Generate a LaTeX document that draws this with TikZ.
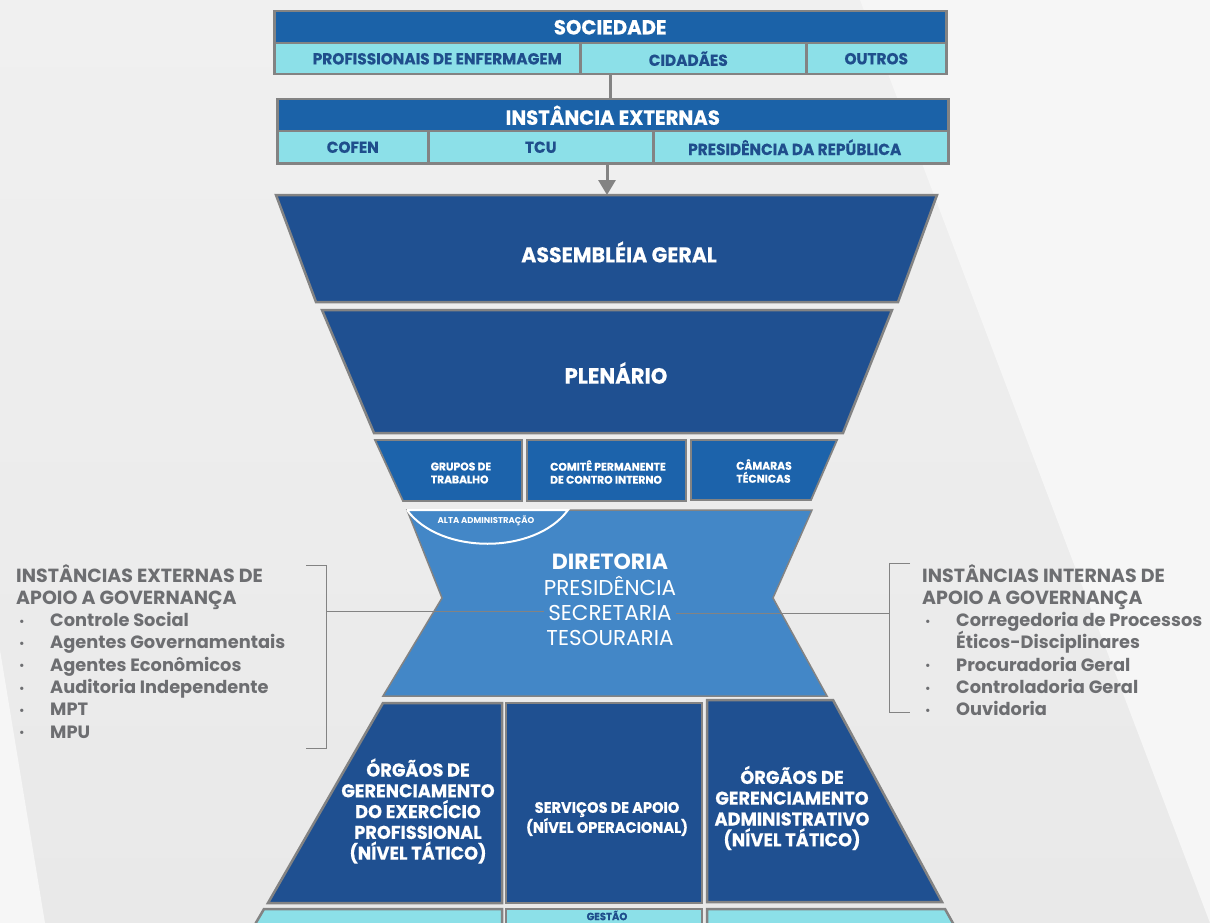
\documentclass[tikz,border=0pt]{standalone}
\usepackage{fontspec}
\setmainfont{Poppins}
\newfontfamily\condfont[FakeStretch=0.96,FakeBold=0.4]{Poppins}
\usetikzlibrary{arrows.meta}

\definecolor{headblue}{HTML}{1B62A8}
\definecolor{cellcyan}{HTML}{8CE0E8}
\definecolor{celltext}{HTML}{1F4E8C}
\definecolor{deepblue}{HTML}{1F5091}
\definecolor{midblue}{HTML}{1C63AB}
\definecolor{hourblue}{HTML}{4387C7}
\definecolor{edgegray}{HTML}{838383}
\definecolor{sidegray}{HTML}{6D6E71}
\definecolor{bgtop}{HTML}{F0F0F0}
\definecolor{bgback}{HTML}{E9E9E9}
\definecolor{bglight}{HTML}{F6F6F6}

\newcommand{\pxsize}[2]{\fontsize{#1}{#2}\selectfont}
\newcommand{\sbul}{\makebox[34pt][l]{\hspace{3pt}\raisebox{1.5pt}{\pxsize{11}{11}\textbullet}}}
\newcommand{\sidehead}[1]{{\pxsize{19}{22.3}#1}}

\tikzset{
  cellbox/.style={draw=edgegray, line width=2.5pt, inner sep=0pt, anchor=north west},
  topbar/.style={cellbox, fill=headblue, text=white, font=\condfont\bfseries\pxsize{20.5}{20.5}},
  subcell/.style={cellbox, fill=cellcyan, text=celltext, font=\condfont\bfseries\pxsize{16}{16}},
  funnel/.style={draw=edgegray, line width=2.5pt, fill=deepblue},
  smallbox/.style={draw=edgegray, line width=1.8pt, fill=midblue},
  boxtext/.style={text=white, align=center, inner sep=0pt, font=\condfont\bfseries\pxsize{18.5}{20.8}},
  smalltext/.style={text=white, align=left, inner sep=0pt, font=\condfont\bfseries\pxsize{11.2}{13}},
  sidetext/.style={text=sidegray, align=left, anchor=north west, inner sep=0pt, font=\bfseries\pxsize{17.8}{22.3}},
  bracket/.style={draw=edgegray, line width=1pt}
}

\begin{document}
\begin{tikzpicture}[x=1pt,y=-1pt]
\useasboundingbox (0,0) rectangle (1210,923);
\clip (0,0) rectangle (1210,923);
\shade[top color=bgtop, bottom color=bgback] (0,0) rectangle (1210,923);
\fill[bglight] (860,0) -- (1210,0) -- (1210,923) -- cycle;
\fill[bglight] (0,650) -- (45,923) -- (0,923) -- cycle;

\node[topbar, minimum width=672pt, minimum height=32pt] (soc) at (273,10) {SOCIEDADE};
\node[subcell, minimum width=306pt, minimum height=31pt, text depth=0pt] (prof) at (273,42) {\hspace*{20pt}PROFISSIONAIS DE ENFERMAGEM};
\node[subcell, minimum width=226pt, minimum height=31pt] (cid) at (579,42) {CIDADÃES\hspace*{10pt}};
\node[subcell, minimum width=140pt, minimum height=31pt] (outros) at (805,42) {OUTROS};

\node[topbar, minimum width=671pt, minimum height=32pt] (ext) at (276,98) {INSTÂNCIA EXTERNAS};
\node[subcell, minimum width=151pt, minimum height=32pt] (cofen) at (276,130) {COFEN};
\node[subcell, minimum width=225pt, minimum height=32pt] (tcu) at (427,130) {TCU};
\node[subcell, minimum width=295pt, minimum height=32pt] (presrep) at (652,130) {PRESIDÊNCIA DA REPÚBLICA\hspace*{12pt}};

\draw[edgegray, line width=2.5pt] (soc |- cid.south) -- (soc |- ext.north);
\coordinate (asmtop) at (607,195);
\draw[edgegray, line width=3pt, -{Triangle[width=17pt,length=15pt]}] (tcu.south -| asmtop) -- (asmtop);

\filldraw[funnel] (276,195) -- (937,195) -- (898,302) -- (316,302) -- cycle;
\node[boxtext, font=\condfont\bfseries\pxsize{21.4}{21.4}] (asm) at (619,252) {ASSEMBLÉIA GERAL};
\filldraw[funnel] (322,310) -- (892,310) -- (843,433) -- (374,433) -- cycle;
\node[boxtext, font=\condfont\bfseries\pxsize{22}{22}] (plen) at (616,373) {PLENÁRIO};

\filldraw[smallbox] (375,440) -- (522,440) -- (522,501) -- (403,501) -- cycle;
\node[smalltext] (grupos) at (461,473) {GRUPOS DE\\TRABALHO};
\filldraw[smallbox] (527,440) -- (686,440) -- (686,501) -- (527,501) -- cycle;
\node[smalltext] (comite) at (608,472) {COMITÊ PERMANENTE\\DE CONTRO INTERNO};
\filldraw[smallbox] (691,440) -- (837,440) -- (811,500) -- (691,500) -- cycle;
\node[smalltext] (camaras) at (764,471) {CÂMARAS\\TÉCNICAS};

\filldraw[fill=hourblue, draw=edgegray, line width=1.5pt] (407,510) -- (812,510) -- (773,598) -- (827,696) -- (383,696) -- (442,598) -- cycle;
\draw[white, line width=2pt] (407,510) -- (568,510) .. controls (535,555) and (440,555) .. (407,510);
\node[text=white, inner sep=0pt, font=\bfseries\pxsize{8.5}{8.5}] (alta) at (486,521) {ALTA ADMINISTRAÇÃO};
\node[text=white, align=center, inner sep=0pt, font=\pxsize{21.5}{25.3}] (dir) at (610,600) {{\bfseries\pxsize{22}{25.3}DIRETORIA}\\PRESIDÊNCIA\\SECRETARIA\\TESOURARIA};

\filldraw[funnel] (383,703) -- (502,703) -- (502,903) -- (268,903) -- cycle;
\node[boxtext] (orgprof) at (418,811) {ÓRGÃOS DE\\GERENCIAMENTO\\DO EXERCÍCIO\\PROFISSIONAL\\(NÍVEL TÁTICO)};
\filldraw[funnel] (506,703) -- (702,703) -- (702,903) -- (506,903) -- cycle;
\node[boxtext, font=\condfont\bfseries\pxsize{15.2}{18}] (servicos) at (607,819) {SERVIÇOS DE APOIO\\(NÍVEL OPERACIONAL)};
\filldraw[funnel] (707,700) -- (833,700) -- (942,902) -- (707,902) -- cycle;
\node[boxtext] (orgadm) at (792,808) {ÓRGÃOS DE\\GERENCIAMENTO\\ADMINISTRATIVO\\(NÍVEL TÁTICO)};

\filldraw[fill=cellcyan, draw=edgegray, line width=2.5pt] (264,909) -- (502,909) -- (502,950) -- (240,950) -- cycle;
\filldraw[fill=cellcyan, draw=edgegray, line width=2.5pt] (506,909) -- (702,909) -- (702,950) -- (506,950) -- cycle;
\node[text=celltext, inner sep=0pt, font=\condfont\bfseries\pxsize{10.5}{10.5}] (gestao) at (607,915.5) {GESTÃO};
\filldraw[fill=cellcyan, draw=edgegray, line width=2.5pt] (707,909) -- (945,909) -- (968,950) -- (707,950) -- cycle;

\node[sidetext] (extapoio) at (16,564) {\sidehead{INSTÂNCIAS EXTERNAS DE}\\\sidehead{APOIO A GOVERNANÇA}\\\sbul Controle Social\\\sbul Agentes Governamentais\\\sbul Agentes Econômicos\\\sbul Auditoria Independente\\\sbul MPT\\\sbul MPU};
\node[sidetext] (intapoio) at (922,564) {\sidehead{INSTÂNCIAS INTERNAS DE}\\\sidehead{APOIO A GOVERNANÇA}\\\sbul Corregedoria de Processos\\\hspace*{34pt}Éticos-Disciplinares\\\sbul Procuradoria Geral\\\sbul Controladoria Geral\\\sbul Ouvidoria};

\coordinate (lbr) at (326,611);
\coordinate (rbr) at (889,613);
\draw[bracket] (306,565) -| (326,748) -- (306,748);
\draw[bracket] (910,563) -| (889,712) -- (910,712);
\draw[bracket] (lbr) -- (lbr -| dir.west);
\draw[bracket] (rbr) -- (rbr -| dir.east);
\end{tikzpicture}
\end{document}
